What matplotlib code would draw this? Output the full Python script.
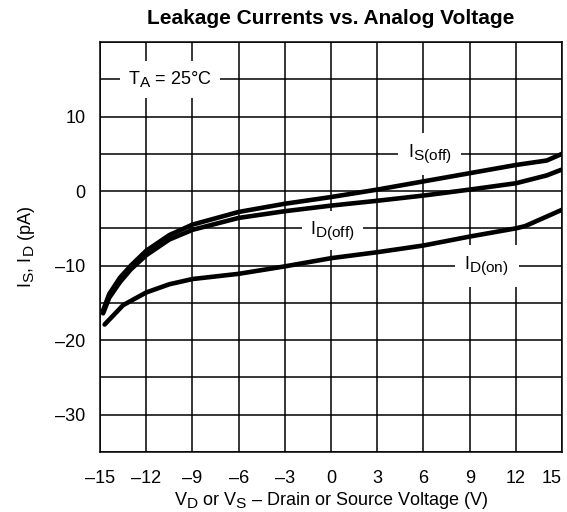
import numpy as np
import matplotlib
matplotlib.use('Agg')
import matplotlib.pyplot as plt
import matplotlib._mathtext as mt

plt.rcParams['font.family'] = ['Liberation Sans', 'DejaVu Sans']
plt.rcParams['mathtext.fontset'] = 'custom'
plt.rcParams['mathtext.rm'] = 'Liberation Sans'
plt.rcParams['mathtext.it'] = 'Liberation Sans'
mt.SHRINK_FACTOR = 0.85  # subscripts in the datasheet are nearly full size

# data
is_off_x = [-14.8, -14.4, -13.7, -13, -12, -10.5, -9, -6, -3, 0, 3, 6, 9, 12, 14.0, 15]
is_off_y = [-16.0, -13.8, -11.6, -10.0, -8.0, -5.9, -4.5, -2.8, -1.7, -0.8, 0.2, 1.3, 2.4, 3.5, 4.1, 5.0]

id_off_x = [-14.8, -14.4, -13.7, -13, -12, -10.5, -9, -6, -3, 0, 3, 6, 9, 12, 14, 15]
id_off_y = [-16.4, -14.3, -12.2, -10.5, -8.6, -6.5, -5.2, -3.6, -2.7, -1.95, -1.3, -0.6, 0.2, 1.05, 2.1, 2.9]

id_on_x = [-14.7, -14.1, -13.5, -12, -10.5, -9, -6, -3, 0, 3, 6, 9, 12, 12.6, 15]
id_on_y = [-17.9, -16.6, -15.3, -13.6, -12.5, -11.8, -11.1, -10.1, -9.0, -8.2, -7.3, -6.1, -5.0, -4.7, -2.5]

x_ticks = [-15, -12, -9, -6, -3, 0, 3, 6, 9, 12, 15]
y_ticks = [-30, -20, -10, 0, 10]

fig = plt.figure(figsize=(5.67, 5.12), dpi=100)
ax = fig.add_axes([0.1764, 0.1172, 0.815, 0.8008])

ax.set_xlim(-15, 15)
ax.set_ylim(-35, 20)

# grid lines every 3 V and every 5 pA
for xv in np.arange(-15, 16, 3):
    ax.axvline(xv, color='black', lw=1.1, zorder=1)
for yv in np.arange(-35, 21, 5):
    ax.axhline(yv, color='black', lw=1.1, zorder=1)

for xs, ys in [(is_off_x, is_off_y), (id_off_x, id_off_y), (id_on_x, id_on_y)]:
    ax.plot(xs, ys, color='black', lw=3.3, solid_capstyle='round',
            solid_joinstyle='round', zorder=5)

ax.text(-10.45, 15, r'$\mathregular{T_A}$ = 25°C', fontsize=13, ha='center', va='center',
        bbox=dict(facecolor='white', edgecolor='none', pad=6), zorder=4)
ax.text(6.4, 5, r'$\mathregular{I_{S(off)}}$', fontsize=13, ha='center', va='center',
        bbox=dict(facecolor='white', edgecolor='none', pad=7), zorder=4)
ax.text(0.1, -5.3, r'$\mathregular{I_{D(off)}}$', fontsize=13, ha='center', va='center',
        bbox=dict(facecolor='white', edgecolor='none', pad=6), zorder=4)
ax.text(10.1, -10, r'$\mathregular{I_{D(on)}}$', fontsize=13, ha='center', va='center',
        bbox=dict(facecolor='white', edgecolor='none', pad=7), zorder=4)

ax.set_xticks(x_ticks)
ax.set_xticklabels([str(v).replace('-', '–') for v in x_ticks])
ax.get_xticklabels()[-1].set_horizontalalignment('right')
ax.set_yticks(y_ticks)
ax.set_yticklabels([str(v).replace('-', '–') for v in y_ticks])
ax.tick_params(length=0, labelsize=13)
ax.tick_params(axis='x', pad=13)
ax.tick_params(axis='y', pad=10.5)

for s in ax.spines.values():
    s.set_linewidth(1.1)
    s.set_zorder(6)

ax.set_title('Leakage Currents vs. Analog Voltage', fontsize=15, fontweight='bold', pad=13)
ax.set_xlabel(r'$\mathregular{V_D}$ or $\mathregular{V_S}$ – Drain or Source Voltage (V)',
              fontsize=13, labelpad=2)
ax.set_ylabel(r'$\mathregular{I_S}$, $\mathregular{I_D}$ (pA)', fontsize=13, labelpad=13)

fig.savefig('out.png', dpi=100)
